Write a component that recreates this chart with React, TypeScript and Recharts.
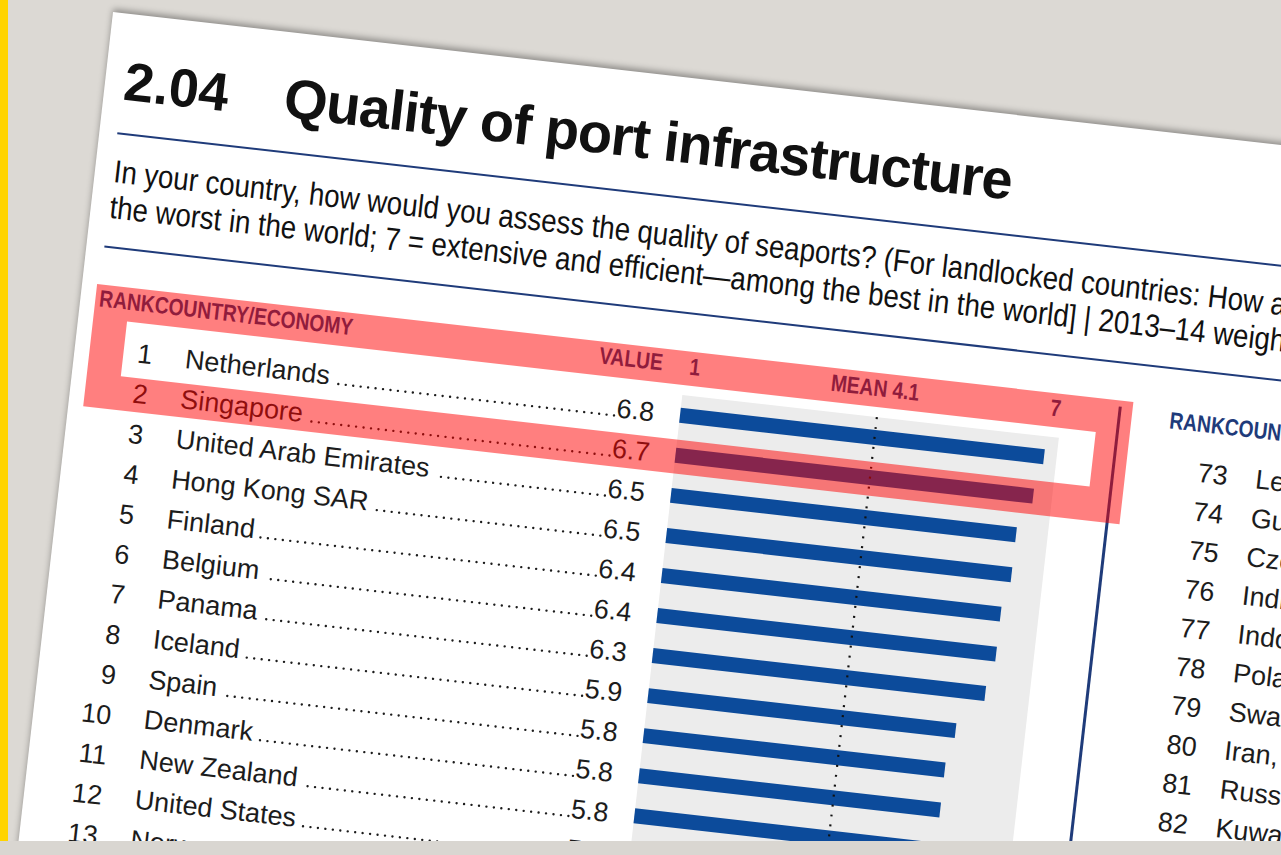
import React from 'react';
import { BarChart, Bar, XAxis, YAxis, ReferenceLine, ReferenceArea } from 'recharts';

// left column: rank, country, value
const ranks = [1, 2, 3, 4, 5, 6, 7, 8, 9, 10, 11, 12, 13];
const countries = [
  'Netherlands',
  'Singapore',
  'United Arab Emirates',
  'Hong Kong SAR',
  'Finland',
  'Belgium',
  'Panama',
  'Iceland',
  'Spain',
  'Denmark',
  'New Zealand',
  'United States',
  'Norway',
];
const values = [6.8, 6.7, 6.5, 6.5, 6.4, 6.4, 6.3, 5.9, 5.8, 5.8, 5.8, 5.7, 5.7];

const meanValue = 4.1;
const scaleTicks = [1, meanValue, 7];

// right column (mostly cut off by the photo)
const rightRanks = [73, 74, 75, 76, 77, 78, 79, 80, 81, 82];
const rightCountries = [
  'Lebanon',
  'Guatemala',
  'Czech Republic',
  'India',
  'Indonesia',
  'Poland',
  'Swaziland',
  'Iran, Islamic Rep.',
  'Russian Federation',
  'Kuwait',
];

const data = countries.map((name, i) => ({ name, rank: ranks[i], value: values[i] }));

const SANS = '"Liberation Sans", Arial, Helvetica, sans-serif';
const BLUE = '#0c4b9b';
const HEAD_BLUE = '#1f3b7a';
const INK = '#1c1c1c';
const ROW_SIZE = 27;
const HEAD_SIZE = 23.5;
const NARROW_X = 0.82;

let ctx: CanvasRenderingContext2D | null = null;
function textWidth(s: string, font: string) {
  if (!ctx) ctx = document.createElement('canvas').getContext('2d');
  if (!ctx) return s.length * 14;
  ctx.font = font;
  return ctx.measureText(s).width;
}

function RowTick(props: any) {
  const { y, payload } = props;
  const row = data.find(d => d.name === payload.value);
  if (!row) return null;
  const base = y + 9.5;
  const rankRight = 58;
  const nameX = 91;
  const valueRight = 563;
  const valueText = row.value.toFixed(1);
  const font = `${ROW_SIZE}px "Liberation Sans"`;
  const dotStart = nameX + textWidth(row.name, font) + 6;
  const dotEnd = valueRight - textWidth(valueText, font) - 2;
  return (
    <g fontFamily={SANS} fontSize={ROW_SIZE} fill={INK}>
      <text x={rankRight} y={base} textAnchor="end">{row.rank}</text>
      <text x={nameX} y={base}>{row.name}</text>
      <line x1={dotEnd} y1={base - 1.5} x2={dotStart} y2={base - 1.5}
        stroke={INK} strokeWidth={2.4} strokeDasharray="0 7.5" strokeLinecap="round" />
      <text x={valueRight} y={base} textAnchor="end">{valueText}</text>
    </g>
  );
}

function ScaleTick(props: any) {
  const { x, payload } = props;
  const v = payload.value;
  const first = v === scaleTicks[0];
  const last = v === scaleTicks[scaleTicks.length - 1];
  const label = v === meanValue ? `MEAN ${meanValue}` : String(v);
  const anchor = first ? 'start' : last ? 'end' : 'middle';
  const dx = first ? 4 : last ? -1 : -5;
  return (
    <g transform={`translate(${x + dx},45) scale(${NARROW_X},1)`}>
      <text x={0} y={0} textAnchor={anchor} fontFamily={SANS} fontWeight="bold"
        fontSize={HEAD_SIZE} fill={HEAD_BLUE}>{label}</text>
    </g>
  );
}

const abs = (left: number, top: number, extra: React.CSSProperties = {}): React.CSSProperties => ({
  position: 'absolute', left, top, whiteSpace: 'nowrap', ...extra,
});

export default function App() {
  const headStyle: React.CSSProperties = {
    fontFamily: SANS, fontWeight: 'bold', fontSize: HEAD_SIZE, lineHeight: `${HEAD_SIZE}px`, color: HEAD_BLUE,
    transform: `scaleX(${NARROW_X})`, transformOrigin: 'left top',
  };
  const rowText: React.CSSProperties = {
    fontFamily: SANS, fontSize: ROW_SIZE, lineHeight: `${ROW_SIZE}px`, color: INK,
  };
  return (
    <div style={{ position: 'fixed', left: 0, top: 0, width: 1281, height: 855, overflow: 'hidden', background: '#dcd9d4' }}>
      <div style={{
        position: 'absolute', left: 113, top: 12, width: 1400, height: 1100, background: '#ffffff',
        transform: 'rotate(6.5deg)', transformOrigin: '0 0', boxShadow: '0 -3px 6px rgba(0,0,0,0.35)',
      }}>
        <div style={abs(19, 40, { fontFamily: SANS, fontWeight: 'bold', fontSize: 54, lineHeight: '54px', color: '#111' })}>2.04</div>
        <div style={abs(180, 37.6, { fontFamily: SANS, fontWeight: 'bold', fontSize: 56, lineHeight: '56px', letterSpacing: -1, color: '#111' })}>
          Quality of port infrastructure
        </div>
        <div style={abs(18, 118.5, { width: 1400, height: 2, background: HEAD_BLUE })} />
        <div style={abs(19, 140, {
          fontFamily: SANS, fontSize: 32, lineHeight: '36px', color: '#111',
          transform: 'scaleX(0.865)', transformOrigin: 'left top',
        })}>
          In your country, how would you assess the quality of seaports? (For landlocked countries: How accessible are seaport facilities?) [1 = extremely underdeveloped—among
          <br />
          the worst in the world; 7 = extensive and efficient—among the best in the world] | 2013–14 weighted average
        </div>
        <div style={abs(18, 233, { width: 1400, height: 2, background: HEAD_BLUE })} />

        <div style={abs(18.6, 275, headStyle)}>RANKCOUNTRY/ECONOMY</div>
        <div style={abs(486, 275, { ...headStyle, width: 100, textAlign: 'right', transformOrigin: 'right top' })}>VALUE</div>

        <div style={abs(20, 250)}>
          <BarChart width={980} height={590} data={data} layout="vertical"
            margin={{ top: 0, right: 12, bottom: 0, left: 0 }} barSize={15}>
            <XAxis type="number" orientation="top" domain={[1, 7]} ticks={scaleTicks} interval={0}
              height={66} axisLine={false} tickLine={false} tick={<ScaleTick />} />
            <YAxis type="category" dataKey="name" width={589} axisLine={false} tickLine={false}
              interval={0} tick={<RowTick />} />
            <ReferenceArea x1={1} x2={7} fill="#ececec" fillOpacity={1} stroke="none" />
            <Bar dataKey="value" fill={BLUE} isAnimationActive={false} />
            <ReferenceLine x={meanValue} stroke="#111" strokeWidth={2.2} strokeDasharray="2 8" />
          </BarChart>
        </div>

        <div style={abs(1044, 278, { width: 2.5, height: 900, background: HEAD_BLUE })} />

        <div style={abs(1096, 275, headStyle)}>RANKCOUNTRY/ECONOMY</div>
        {rightRanks.map((r, i) => (
          <React.Fragment key={r}>
            <div style={abs(1100, 345 + i * 39 - 0.8465 * ROW_SIZE, { ...rowText, width: 60, textAlign: 'right' })}>{r}</div>
            <div style={abs(1188, 345 + i * 39 - 0.8465 * ROW_SIZE, rowText)}>{rightCountries[i]}</div>
          </React.Fragment>
        ))}

        {/* red highlight frame drawn over the photo */}
        <div style={abs(15, 272, { width: 1043, height: 123, boxSizing: 'border-box', border: '34px solid rgba(255,0,0,0.5)' })} />
      </div>
      <div style={{ position: 'absolute', left: 0, top: 0, width: 8, height: 841, background: '#ffd400' }} />
      <div style={{ position: 'absolute', left: 0, top: 841, width: 1281, height: 14, background: '#d9d6d1' }} />
    </div>
  );
}
